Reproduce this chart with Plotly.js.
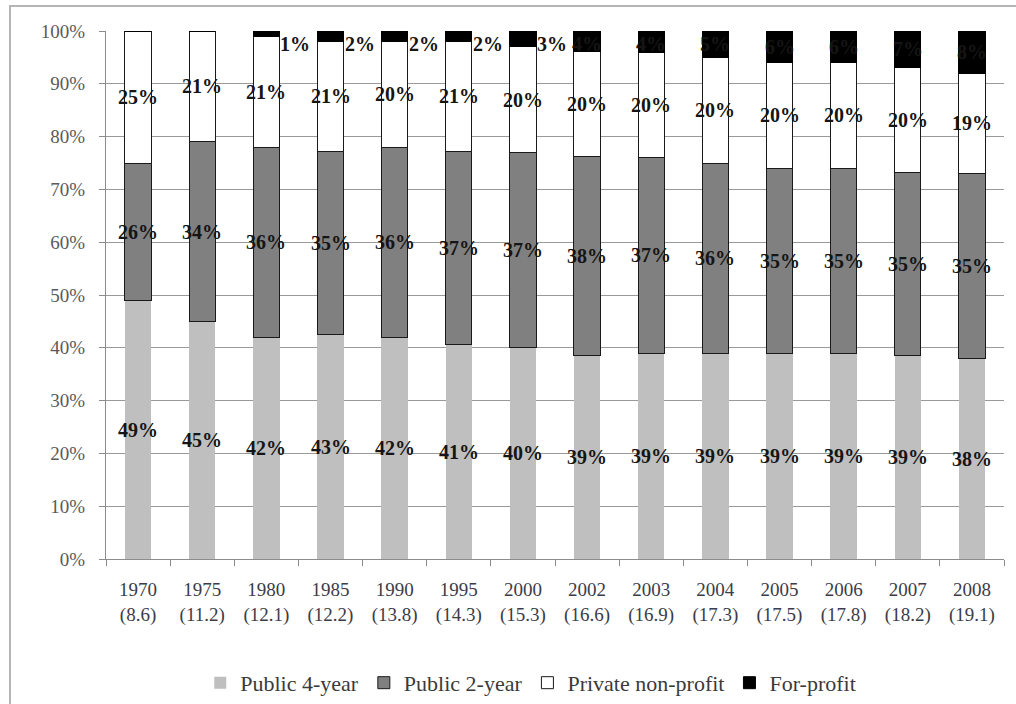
<!DOCTYPE html>
<html>
<head>
<meta charset="utf-8">
<script src="https://cdn.plot.ly/plotly-3.0.1.min.js"></script>
<style>
  html, body { margin: 0; padding: 0; background: #fff; }
  #wrap { position: relative; width: 1016px; height: 704px; overflow: hidden; }
  #frame { position: absolute; left: 9px; top: 5px; width: 1100px; height: 800px;
           border-left: 2px solid #B5B5B5; border-top: 2px solid #B5B5B5; pointer-events: none; }
  #chart { position: absolute; left: 0; top: 0; width: 1016px; height: 704px; }
</style>
</head>
<body>
<div id="wrap">
  <div id="chart"></div>
  <div id="frame"></div>
</div>
<script>
// ---- data (shares of enrollment, %, as printed on the chart) ----
const years      = ["1970", "1975", "1980", "1985", "1990", "1995", "2000", "2002", "2003", "2004", "2005", "2006", "2007", "2008"];
const totals     = ["8.6", "11.2", "12.1", "12.2", "13.8", "14.3", "15.3", "16.6", "16.9", "17.3", "17.5", "17.8", "18.2", "19.1"];
const public4    = [49, 45, 42, 43, 42, 41, 40, 39, 39, 39, 39, 39, 39, 38];
const public2    = [26, 34, 36, 35, 36, 37, 37, 38, 37, 36, 35, 35, 35, 35];
const privateNP  = [25, 21, 21, 21, 20, 21, 20, 20, 20, 20, 20, 20, 20, 19];
const forProfit  = [0, 0, 1, 2, 2, 2, 3, 4, 4, 5, 6, 6, 7, 8];
const seriesNames = ["Public 4-year", "Public 2-year", "Private non-profit", "For-profit"];

const cats = years.map((y, i) => y + "<br>(" + totals[i] + ")");
const series = [public4, public2, privateNP, forProfit];
const fills  = ["#BFBFBF", "#808080", "#FFFFFF", "#000000"];
const lines  = ["#BFBFBF", "#1A1A1A", "#1A1A1A", "#000000"];
const lineW  = [0, 1, 1, 1];

const traces = series.map((vals, k) => ({
  type: "bar",
  name: seriesNames[k],
  x: cats,
  y: vals,
  marker: { color: fills[k], line: { color: lines[k], width: lineW[k] } },
  hoverinfo: "skip"
}));

// labels at the middle of each (normalised) stack segment
const annotations = [];
cats.forEach((c, i) => {
  const tot = series.reduce((s, arr) => s + arr[i], 0);
  let base = 0;
  series.forEach((arr, k) => {
    const v = arr[i];
    const share = v / tot * 100;
    let mid = base + share / 2;
    base += share;
    if (v === 0) return;
    let xshift = 0;
    if (k === 3) {
      mid = Math.min(mid, 97.5);
      if (v <= 3) xshift = 29;
    }
    annotations.push({
      x: c, y: mid, xref: "x", yref: "y",
      text: v + "%", showarrow: false, xshift: xshift,
      font: { family: "Liberation Serif, Times New Roman, serif", size: 20, color: "#151515", weight: "bold" }
    });
  });
});

const layout = {
  width: 1016, height: 704,
  margin: { l: 106, r: 12, t: 31, b: 145, autoexpand: false },
  paper_bgcolor: "rgba(0,0,0,0)",
  plot_bgcolor: "#FFFFFF",
  barmode: "stack",
  barnorm: "percent",
  bargap: 0.59,
  showlegend: true,
  legend: {
    orientation: "h", x: 0.473, xanchor: "center",
    yref: "container", y: 0.03, yanchor: "middle",
    font: { family: "Liberation Serif, Times New Roman, serif", size: 22, color: "#3A3A3A" },
    itemwidth: 30, traceorder: "normal"
  },
  xaxis: {
    type: "category",
    automargin: false,
    showgrid: false,
    showline: true, linecolor: "#8C8C8C", linewidth: 1,
    ticks: "outside", tickson: "boundaries", ticklen: 6, tickcolor: "#8C8C8C",
    tickfont: { family: "Liberation Serif, Times New Roman, serif", size: 19, color: "#3C3C48" },
    ticklabelstandoff: 13,
    fixedrange: true
  },
  yaxis: {
    automargin: false,
    range: [0, 100],
    dtick: 10, tick0: 0,
    ticksuffix: "%",
    showgrid: true, gridcolor: "#9A9A9A", gridwidth: 1,
    zeroline: false,
    showline: true, linecolor: "#8C8C8C", linewidth: 1,
    ticks: "outside", ticklen: 6, tickcolor: "#8C8C8C",
    tickfont: { family: "Liberation Serif, Times New Roman, serif", size: 19, color: "#5A5A5A" },
    ticklabelstandoff: 10,
    fixedrange: true
  },
  annotations: annotations
};

Plotly.newPlot("chart", traces, layout, { displayModeBar: false, staticPlot: true });
</script>
</body>
</html>
